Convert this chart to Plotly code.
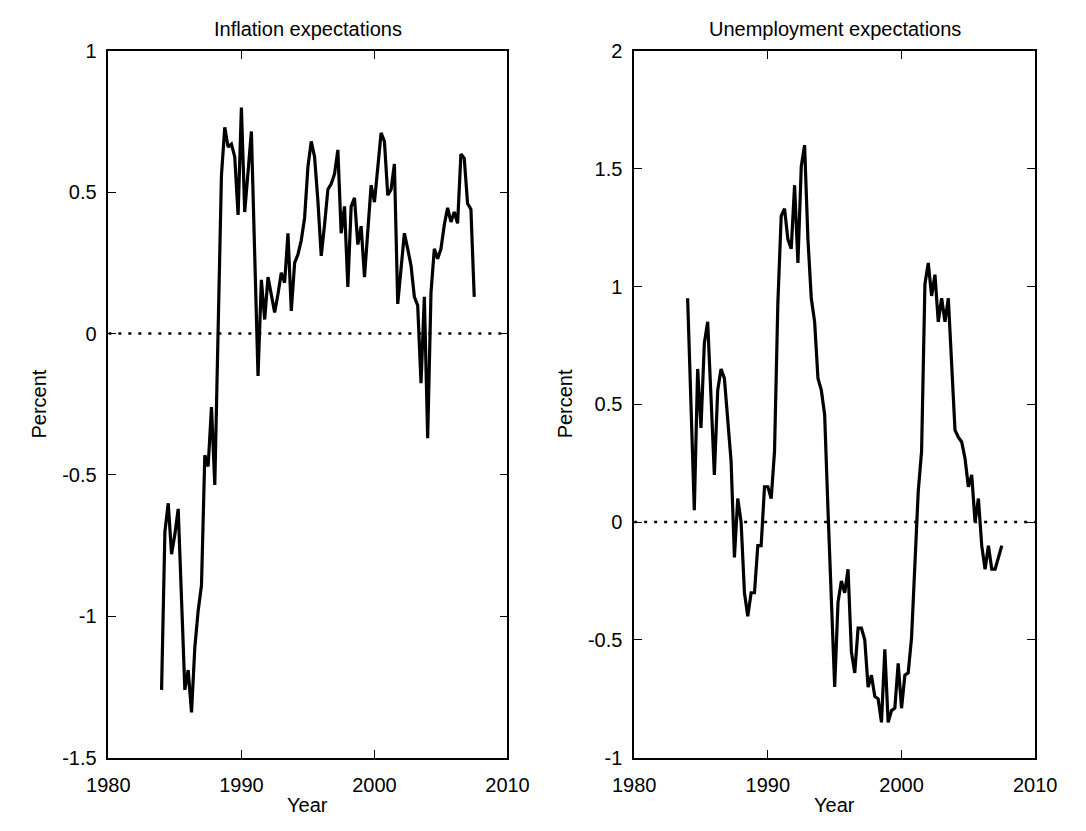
import plotly.graph_objects as go

# ---------------- data ----------------
start_year = 1984.0          # first quarter shown
quarter = 0.25

inflation_expectations = [
    -1.26, -0.70, -0.60, -0.78, -0.71, -0.62, -0.94, -1.26, -1.19, -1.34,
    -1.11, -0.98, -0.89, -0.43, -0.47, -0.26, -0.535, 0.00, 0.56, 0.73,
    0.66, 0.67, 0.625, 0.42, 0.80, 0.43, 0.56, 0.715, 0.28, -0.15,
    0.19, 0.05, 0.20, 0.13, 0.075, 0.14, 0.215, 0.18, 0.355, 0.08,
    0.25, 0.28, 0.33, 0.41, 0.59, 0.68, 0.625, 0.47, 0.275, 0.385,
    0.51, 0.53, 0.565, 0.65, 0.355, 0.45, 0.165, 0.45, 0.48, 0.315,
    0.38, 0.20, 0.36, 0.525, 0.465, 0.60, 0.71, 0.68, 0.49, 0.51,
    0.60, 0.105, 0.22, 0.355, 0.30, 0.24, 0.13, 0.10, -0.175, 0.13,
    -0.37, 0.145, 0.30, 0.265, 0.30, 0.385, 0.445, 0.395, 0.43, 0.39,
    0.635, 0.62, 0.46, 0.44, 0.13,
]

unemployment_expectations = [
    0.95, 0.50, 0.05, 0.65, 0.40, 0.76, 0.85, 0.53, 0.20, 0.56,
    0.65, 0.61, 0.43, 0.26, -0.15, 0.10, 0.00, -0.30, -0.40, -0.30,
    -0.30, -0.10, -0.10, 0.15, 0.15, 0.10, 0.30, 0.93, 1.30, 1.33,
    1.20, 1.16, 1.43, 1.10, 1.51, 1.60, 1.20, 0.95, 0.85, 0.61,
    0.56, 0.455, 0.05, -0.35, -0.70, -0.34, -0.25, -0.30, -0.20, -0.55,
    -0.64, -0.45, -0.45, -0.50, -0.70, -0.65, -0.74, -0.75, -0.85, -0.54,
    -0.85, -0.80, -0.79, -0.60, -0.79, -0.65, -0.64, -0.49, -0.145, 0.13,
    0.30, 1.01, 1.10, 0.96, 1.05, 0.85, 0.95, 0.85, 0.95, 0.67,
    0.39, 0.36, 0.34, 0.27, 0.15, 0.20, 0.00, 0.10, -0.10, -0.20,
    -0.10, -0.20, -0.20, -0.15, -0.10,
]

years = [start_year + quarter * i for i in range(len(inflation_expectations))]

x_ticks = [1980, 1990, 2000, 2010]
x_ticktext = ["1980", "1990", "2000", "2010"]
left_yticks = [-1.5, -1, -0.5, 0, 0.5, 1]
left_yticktext = ["-1.5", "-1", "-0.5", "0", "0.5", "1"]
right_yticks = [-1, -0.5, 0, 0.5, 1, 1.5, 2]
right_yticktext = ["-1", "-0.5", "0", "0.5", "1", "1.5", "2"]
titles = ["Inflation expectations", "Unemployment expectations"]

# ---------------- layout geometry ----------------
W, H = 1086, 831
def px_x(p):
    return p / W
def px_y(p):
    return 1 - p / H

left_dom = [px_x(90), px_x(506)]
right_dom = [px_x(638), px_x(1056)]
y_dom = [px_y(767), px_y(41)]

FONT = "Liberation Sans, Arial, Helvetica, sans-serif"
FS = 20
FS_TITLE = 20

fig = go.Figure()

for series, xa, ya in [(inflation_expectations, "x", "y"),
                       (unemployment_expectations, "x2", "y2")]:
    fig.add_trace(go.Scatter(
        x=years, y=series, mode="lines", xaxis=xa, yaxis=ya,
        line=dict(color="black", width=3.2), showlegend=False,
        hoverinfo="x+y"))
    fig.add_trace(go.Scatter(
        x=[1980, 2010], y=[0, 0], mode="lines", xaxis=xa, yaxis=ya,
        line=dict(color="black", width=2.5, dash="3px,7px"),
        showlegend=False, hoverinfo="skip"))

axis_common = dict(
    showline=True, linecolor="black", linewidth=1.5, mirror="ticks",
    ticks="inside", ticklen=8, tickcolor="black", tickwidth=1,
    showgrid=False, zeroline=False,
    tickfont=dict(family=FONT, size=FS, color="black"),
)

fig.update_layout(
    width=W, height=H,
    margin=dict(l=0, r=0, t=0, b=0),
    paper_bgcolor="white", plot_bgcolor="white",
    xaxis=dict(domain=left_dom, anchor="y", range=[1980, 2010],
               tickvals=x_ticks, ticktext=x_ticktext,
               ticklabelstandoff=9, **axis_common),
    yaxis=dict(domain=y_dom, anchor="x", range=[-1.5, 1],
               tickvals=left_yticks, ticktext=left_yticktext,
               ticklabelstandoff=6, **axis_common),
    xaxis2=dict(domain=right_dom, anchor="y2", range=[1980, 2010],
                tickvals=x_ticks, ticktext=x_ticktext,
                ticklabelstandoff=9, **axis_common),
    yaxis2=dict(domain=y_dom, anchor="x2", range=[-1, 2],
                tickvals=right_yticks, ticktext=right_yticktext,
                ticklabelstandoff=6, **axis_common),
)

ann_font = dict(family=FONT, size=FS, color="black")
title_font = dict(family=FONT, size=FS_TITLE, color="black")
annotations = []
for dom, title in [(left_dom, titles[0]), (right_dom, titles[1])]:
    cx = (dom[0] + dom[1]) / 2
    annotations.append(dict(text=title, x=cx, y=px_y(19), xref="paper", yref="paper",
                            xanchor="center", yanchor="middle", showarrow=False, font=title_font))
    annotations.append(dict(text="Year", x=cx, y=px_y(816), xref="paper", yref="paper",
                            xanchor="center", yanchor="middle", showarrow=False, font=ann_font))
for xp in [18, 566]:
    annotations.append(dict(text="Percent", x=px_x(xp), y=px_y(404), xref="paper", yref="paper",
                            xanchor="center", yanchor="middle", textangle=-90,
                            showarrow=False, font=ann_font))
fig.update_layout(annotations=annotations)

fig.write_html("out.html")
